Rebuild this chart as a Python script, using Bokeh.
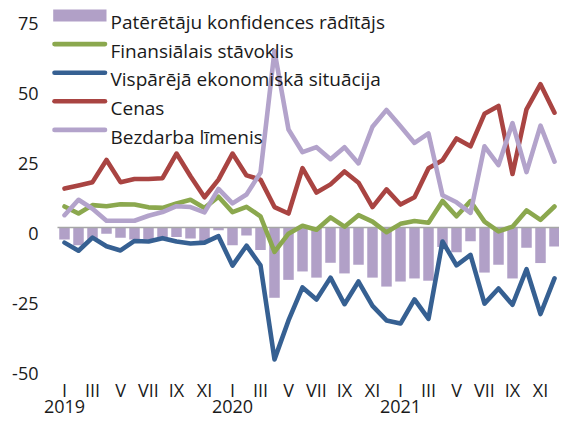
from bokeh.plotting import figure
from bokeh.core.properties import value
from bokeh.embed import file_html
from bokeh.resources import INLINE

# ---- data (monthly, Jan 2019 .. Dec 2021) ----
month_labels = ["I", "III", "V", "VII", "IX", "XI"]
year_labels = ["2019", "2020", "2021"]
y_ticks = [-50, -25, 0, 25, 50, 75]

confidence = [-4.3, -6.3, -4.3, -2.2, -3.7, -4.3, -4.3, -3.6, -3.4, -3.9, -5.2, -1.0,
              -6.3, -2.9, -8.0, -25.1, -18.7, -15.7, -17.9, -12.6, -16.4, -13.3, -17.9, -21.1,
              -19.3, -18.2, -19.0, -7.0, -8.8, -4.9, -16.1, -13.3, -18.2, -7.2, -12.7, -6.8]
financial = [7.5, 5.0, 8.0, 7.6, 8.3, 8.2, 7.2, 7.0, 8.6, 9.9, 7.0, 11.0,
             5.5, 7.4, 4.0, -8.7, -2.2, 0.6, -0.8, 3.6, 0.3, 4.4, 2.1, -1.7,
             1.3, 2.3, 1.7, 9.5, 4.0, 9.4, 2.1, -1.4, 0.3, 6.1, 2.7, 7.5]
economy = [-5.4, -8.3, -3.6, -6.7, -8.2, -4.8, -5.0, -3.8, -5.0, -5.7, -5.4, -3.1,
           -13.6, -6.5, -13.5, -47.1, -33.2, -21.4, -25.7, -17.9, -27.4, -19.3, -28.0, -33.2,
           -34.3, -25.7, -32.6, -5.0, -13.5, -9.8, -27.2, -21.8, -27.6, -14.9, -30.9, -18.2]
prices = [13.9, 15.0, 16.2, 24.1, 16.2, 17.3, 17.3, 17.6, 26.4, 18.3, 10.8, 17.1,
          26.4, 18.6, 17.1, 7.3, 5.0, 21.2, 12.5, 15.4, 20.0, 16.0, 7.3, 13.6,
          8.2, 10.8, 21.2, 24.0, 31.8, 29.0, 40.6, 43.4, 19.1, 42.2, 51.2, 41.0]
unemployment = [4.4, 9.9, 6.7, 2.4, 2.4, 2.4, 4.2, 5.5, 7.6, 7.3, 5.4, 13.8,
                8.6, 11.8, 19.6, 63.0, 35.0, 26.9, 28.7, 24.4, 28.7, 22.9, 36.0, 42.0,
                36.2, 30.2, 33.6, 11.5, 9.0, 5.2, 29.0, 22.3, 37.3, 19.8, 36.4, 23.5]

series_names = ["Patērētāju konfidences rādītājs", "Finansiālais stāvoklis",
                "Vispārējā ekonomiskā situācija", "Cenas", "Bezdarba līmenis"]

months = list(range(len(confidence)))

BAR = "#B1A0C7"
GREEN = "#8BA84E"
BLUE = "#366092"
RED = "#A94442"
LILAC = "#B3A3CB"
FONT = "Open Sans"
TXT = "#1a1a1a"
FS = 18       # axis label font size (px)
FSL = 19      # legend font size (px)

W, H = 559, 420
SX, X0 = 14.0, 64.0       # px per month, canvas px of month 0
SY, Y0 = 2.80, 227.0      # px per unit, canvas px of value 0


def cx(px):
    return (px - X0) / SX


def cy(py):
    return (Y0 - py) / SY


p = figure(width=W, height=H, x_range=(cx(0), cx(W)), y_range=(cy(H), cy(0)),
           title=None, output_backend="svg", toolbar_location=None,
           min_border_left=0, min_border_right=0, min_border_top=0, min_border_bottom=0)
p.outline_line_color = None
p.grid.visible = False
p.axis.visible = False
p.background_fill_color = "white"
p.border_fill_color = "white"

# bars
p.vbar(x=months, top=confidence, bottom=0, width=0.75, fill_color=BAR, line_color=None)
# zero line
p.segment(x0=[-0.5], y0=[0], x1=[35.5], y1=[0], line_color="#A6A6A6", line_width=1.5)

lw = 4.6
for data, col in ((financial, GREEN), (economy, BLUE), (prices, RED), (unemployment, LILAC)):
    p.line(months, data, line_color=col, line_width=lw, line_join="round", line_cap="round")

cap = 0.357  # cap-height centre above baseline, in em

# y tick labels
p.text(x=[cx(38)] * len(y_ticks), y=[t - cap * FS / SY for t in y_ticks], text=[str(t) for t in y_ticks],
       text_align="right", text_baseline="alphabetic", text_font=value(FONT),
       text_font_size=f"{FS}px", text_color=TXT)

# month labels
tick_months = list(range(0, 36, 2))
p.text(x=tick_months, y=[cy(383 + cap * FS)] * len(tick_months),
       text=[month_labels[(m // 2) % 6] for m in tick_months],
       text_align="center", text_baseline="alphabetic", text_font=value(FONT),
       text_font_size=f"{FS}px", text_color=TXT)

# year labels
p.text(x=[0, 12, 24], y=[cy(406)] * 3, text=year_labels,
       text_align="center", text_baseline="alphabetic", text_font=value(FONT),
       text_font_size=f"{FS}px", text_color=TXT)

# legend (manual)
rows = [15.0, 43.6, 72.2, 100.8, 129.4]
p.segment(x0=[cx(52.7)], y0=[cy(rows[0])], x1=[cx(106)], y1=[cy(rows[0])],
          line_color=BAR, line_width=12, line_cap="butt")
for ry, col in zip(rows[1:], (GREEN, BLUE, RED, LILAC)):
    p.segment(x0=[cx(54)], y0=[cy(ry)], x1=[cx(104.5)], y1=[cy(ry)],
              line_color=col, line_width=lw, line_cap="round")
p.text(x=[cx(110)] * 5, y=[cy(ry + cap * FSL) for ry in rows], text=series_names,
       text_align="left", text_baseline="alphabetic", text_font=value(FONT),
       text_font_size=f"{FSL}px", text_color=TXT)

open("out.html", "w").write(file_html(p, INLINE))
